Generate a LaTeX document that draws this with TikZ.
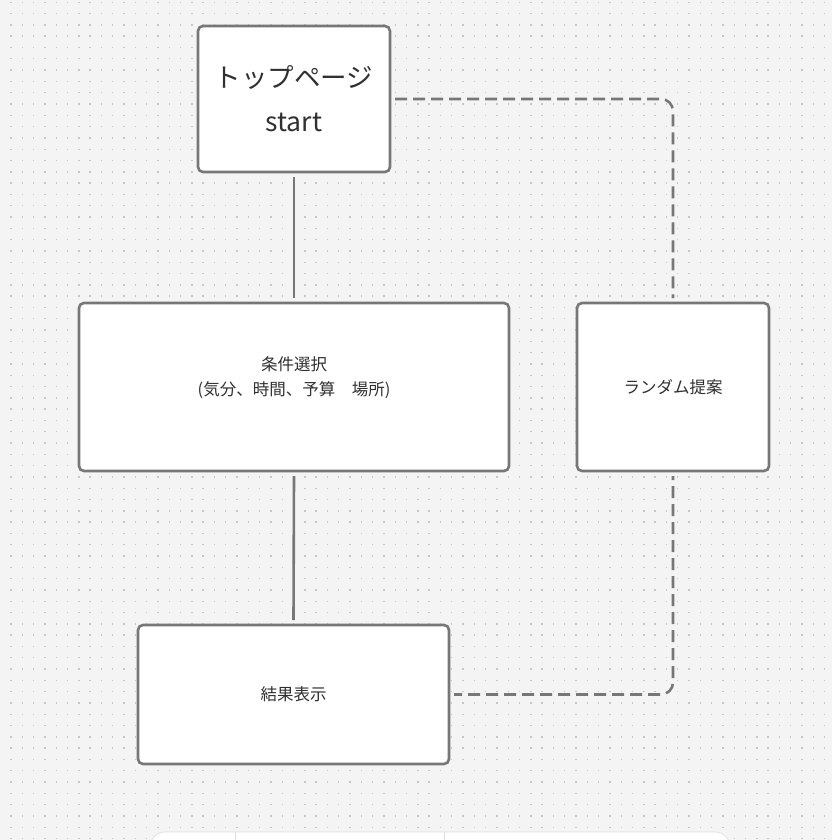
\documentclass[tikz,border=0pt]{standalone}
\usepackage{fontspec}
\setmainfont{Noto Sans CJK JP}
\definecolor{boardgray}{HTML}{F4F4F4}
\definecolor{dotgray}{HTML}{C6C6C6}
\definecolor{edgegray}{HTML}{777777}
\definecolor{inkgray}{HTML}{303030}
\definecolor{seamgray}{HTML}{DDDDDD}

\begin{document}
\begin{tikzpicture}
[x=1pt,y=-1pt]
\tikzstyle{page node}=[draw=edgegray,line width=2.6pt,fill=white,rounded corners=5pt,inner sep=0,outer sep=5pt,text=inkgray,align=center,font=\fontsize{16.5}{25}\selectfont]
\tikzstyle{flow line}=[draw=edgegray,line width=2.6pt]
\tikzstyle{random line}=[flow line,dash pattern=on 12pt off 6pt,rounded corners=12pt]

\useasboundingbox (0,0) rectangle (832,840);
\clip (0,0) rectangle (832,840);
\fill[boardgray] (0,0) rectangle (832,840);
\foreach \i in {0,...,73}
  \foreach \j in {0,...,74}
    \fill[dotgray] (10.3+11.3*\i,1.6+11.3*\j) rectangle ++(1.4,1.4);

\node(0)[page node,minimum width=192,minimum height=146,font=\fontsize{26.5}{44}\selectfont]
  at (294,99) {トップページ\\start};
\node(1)[page node,minimum width=430,minimum height=168]
  at (294,387) {条件選択\\(気分、時間、予算　場所)\\[-10pt]\strut};
\node(2)[page node,minimum width=192,minimum height=168]
  at (673,387) {ランダム提案};
\node(3)[page node,minimum width=311,minimum height=139]
  at (293.5,694.5) {結果表示};

\draw[flow line] (0.south)--(1.north);
\draw[flow line] (1.south)--(3.north);
\draw[random line] (0.east) -| (2.north);
\draw[random line,dash phase=8pt] (2.south) |- (3.east);

% toolbar at the bottom edge
\fill[white,draw=seamgray,line width=0.6pt,rounded corners=15pt] (150,832) rectangle (730,880);
\draw[seamgray,line width=1pt] (235,832)--(235,840);
\draw[seamgray,line width=1pt] (444,832)--(444,840);
\end{tikzpicture}
\end{document}
